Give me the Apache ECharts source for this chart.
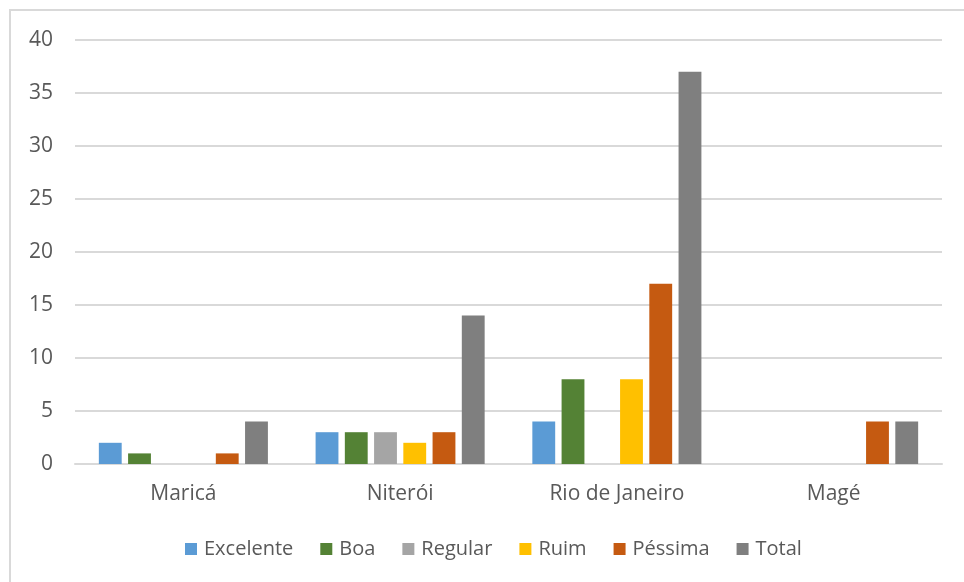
<!DOCTYPE html>
<html>
<head>
<meta charset="utf-8">
<script src="https://cdn.jsdelivr.net/npm/echarts@6/dist/echarts.min.js"></script>
<style>
  html, body { margin: 0; padding: 0; background: #fff; }
  #chart { width: 964px; height: 582px; }
</style>
</head>
<body>
<div id="chart"></div>
<script>
// categorias e valores
const cidades = ['Maricá', 'Niterói', 'Rio de Janeiro', 'Magé'];
const excelente = [2, 3, 4, 0];
const boa = [1, 3, 8, 0];
const regular = [0, 3, 0, 0];
const ruim = [0, 2, 8, 0];
const pessima = [1, 3, 17, 4];
const total = [4, 14, 37, 4];

const nomes = ['Excelente', 'Boa', 'Regular', 'Ruim', 'Péssima', 'Total'];
const valores = [excelente, boa, regular, ruim, pessima, total];
const cores = ['#5B9BD5', '#548235', '#A5A5A5', '#FFC000', '#C55A11', '#7F7F7F'];

const chart = echarts.init(document.getElementById('chart'));

const fonte = 'Open Sans, Noto Sans, sans-serif';

chart.setOption({
  animation: false,
  textStyle: { fontFamily: fonte },
  graphic: [
    {
      type: 'rect',
      shape: { x: 10, y: 10, width: 1200, height: 1200 },
      style: { fill: 'none', stroke: '#D9D9D9', lineWidth: 2 },
      silent: true
    }
  ],
  grid: { left: 75, right: 22, top: 40, bottom: 118 },
  legend: {
    top: 534,
    left: 180,
    itemWidth: 12,
    itemHeight: 12,
    itemGap: 27,
    icon: 'rect',
    textStyle: { color: '#595959', fontSize: 20, fontFamily: fonte, padding: [0, 0, 0, 2] },
    data: nomes
  },
  xAxis: {
    type: 'category',
    data: cidades,
    axisTick: { show: false },
    axisLine: { lineStyle: { color: '#D9D9D9', width: 2 } },
    axisLabel: { color: '#595959', fontSize: 21, margin: 20 }
  },
  yAxis: {
    type: 'value',
    min: 0,
    max: 40,
    interval: 5,
    axisLine: { show: false },
    axisTick: { show: false },
    axisLabel: { color: '#595959', fontSize: 21, margin: 22 },
    splitLine: { lineStyle: { color: '#D9D9D9', width: 2 } }
  },
  series: nomes.map((nome, i) => ({
    name: nome,
    type: 'bar',
    data: valores[i],
    barGap: '28%',
    barCategoryGap: '22%',
    itemStyle: { color: cores[i] }
  }))
});
</script>
</body>
</html>
